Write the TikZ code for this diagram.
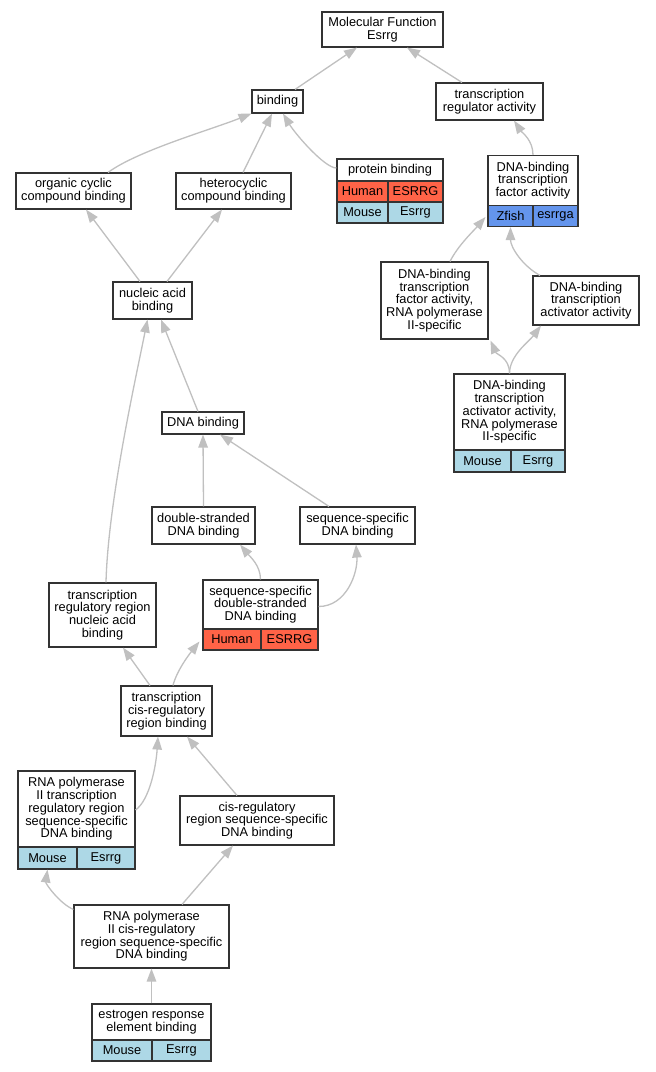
\documentclass[tikz,border=0pt]{standalone}
\usepackage{fontspec}
\setmainfont{Liberation Sans}
\usetikzlibrary{arrows.meta,calc}
\definecolor{human}{HTML}{FF6347}
\definecolor{mouse}{HTML}{ADD8E6}
\definecolor{zfish}{HTML}{6495ED}
\definecolor{edgegray}{HTML}{C0C0C0}
\newcommand\gfont{\fontsize{12.8}{12.7}\selectfont}
\tikzset{
  box/.style={draw=black!80, line width=1.1pt, fill=white, inner sep=0pt, align=center, font=\gfont},
  edge/.style={draw=edgegray, line width=1.3pt, -{Triangle[length=13pt,width=9.5pt,fill=edgegray]}},
}
\begin{document}
\begin{tikzpicture}[x=1pt,y=-1pt]
\useasboundingbox[fill=white] (0,0) rectangle (656,1072);
% simple boxes
\node[box, minimum width=121pt, minimum height=35pt] (mf) at (382.5,29.5) {Molecular Function\\Esrrg};
\node[box, minimum width=51pt, minimum height=23pt] (bind) at (277.5,101.5) {binding};
\node[box, minimum width=107pt, minimum height=37pt] (tra) at (489.5,101.5) {transcription\\regulator activity};
% protein binding
\node[box, minimum width=106pt, minimum height=22pt] (pb) at (390,170) {protein binding};
\node[box, fill=human, minimum width=51pt, minimum height=21pt] (pbh) at (362.5,191.5) {Human};
\node[box, fill=human, minimum width=55pt, minimum height=21pt] (pbhg) at (415.5,191.5) {ESRRG};
\node[box, fill=mouse, minimum width=51pt, minimum height=21pt] (pbm) at (362.5,212.5) {Mouse};
\node[box, fill=mouse, minimum width=55pt, minimum height=21pt] (pbmg) at (415.5,212.5) {Esrrg};
% DNA-binding transcription factor activity
\node[box, minimum width=90pt, minimum height=50pt] (dtf) at (533,180.5) {DNA-binding\\transcription\\factor activity};
\node[box, fill=zfish, minimum width=45pt, minimum height=21pt] (dtfz) at (510.5,216) {Zfish};
\node[box, fill=zfish, minimum width=45pt, minimum height=21pt] (dtfzg) at (555.5,216) {esrrga};
\node[box, minimum width=115pt, minimum height=36pt] (occ) at (73.5,191) {organic cyclic\\compound binding};
\node[box, minimum width=115pt, minimum height=36pt] (hcc) at (233.5,191) {heterocyclic\\compound binding};
\node[box, minimum width=79pt, minimum height=37pt] (nab) at (152.5,300.5) {nucleic acid\\binding};
\node[box, minimum width=107pt, minimum height=77pt] (dtfii) at (434.5,300.5) {DNA-binding\\transcription\\factor activity,\\RNA polymerase\\II-specific};
\node[box, minimum width=106pt, minimum height=49pt] (dtaa) at (586,300.5) {DNA-binding\\transcription\\activator activity};
% activator II
\node[box, minimum width=111pt, minimum height=76pt] (dtaaii) at (509.5,412) {DNA-binding\\transcription\\activator activity,\\RNA polymerase\\II-specific};
\node[box, fill=mouse, minimum width=57pt, minimum height=22pt] (dtaaiim) at (482.5,461) {Mouse};
\node[box, fill=mouse, minimum width=54pt, minimum height=22pt] (dtaaiig) at (538,461) {Esrrg};
\node[box, minimum width=82pt, minimum height=22pt] (dnab) at (203,423) {DNA binding};
\node[box, minimum width=103pt, minimum height=37pt] (dsdna) at (203.5,525.5) {double-stranded\\DNA binding};
\node[box, minimum width=115pt, minimum height=37pt] (ssdna) at (357.5,525.5) {sequence-specific\\DNA binding};
% ssds
\node[box, minimum width=115pt, minimum height=49pt] (ssds) at (260.5,604.5) {sequence-specific\\double-stranded\\DNA binding};
\node[box, fill=human, minimum width=58pt, minimum height=21pt] (ssdsh) at (232,639.5) {Human};
\node[box, fill=human, minimum width=57pt, minimum height=21pt] (ssdsg) at (289.5,639.5) {ESRRG};
\node[box, minimum width=107pt, minimum height=64pt] (trrna) at (102.5,615) {transcription\\regulatory region\\nucleic acid\\binding};
\node[box, minimum width=91pt, minimum height=50pt] (tcrb) at (166.5,711) {transcription\\cis-regulatory\\region binding};
% RP2TRR
\node[box, minimum width=117pt, minimum height=76pt] (rp2trr) at (76.5,809) {RNA polymerase\\II transcription\\regulatory region\\sequence-specific\\DNA binding};
\node[box, fill=mouse, minimum width=59pt, minimum height=22pt] (rp2trrm) at (47.5,858) {Mouse};
\node[box, fill=mouse, minimum width=58pt, minimum height=22pt] (rp2trrg) at (106,858) {Esrrg};
\node[box, minimum width=154pt, minimum height=49pt] (crss) at (257,820.5) {cis-regulatory\\region sequence-specific\\DNA binding};
\node[box, minimum width=155pt, minimum height=63pt] (rp2cr) at (151.5,936.5) {RNA polymerase\\II cis-regulatory\\region sequence-specific\\DNA binding};
% ERE
\node[box, minimum width=119pt, minimum height=36pt] (ere) at (151.5,1022) {estrogen response\\element binding};
\node[box, fill=mouse, minimum width=60pt, minimum height=21pt] (erem) at (122,1050.5) {Mouse};
\node[box, fill=mouse, minimum width=59pt, minimum height=21pt] (ereg) at (181.5,1050.5) {Esrrg};
% edges (child -> parent)
\draw[edge] ([xshift=17.5pt]bind.north) -- ([xshift=-25.5pt]mf.south);
\draw[edge] ([xshift=-27.5pt]tra.north) -- ([xshift=24.5pt]mf.south);
\draw[edge] ([xshift=34.5pt]occ.north) .. controls +(30,-22) and +(-40,16) .. ([xshift=-26pt]bind.south);
\draw[edge] ([xshift=9.5pt]hcc.north) -- ([xshift=-5.5pt]bind.south);
\draw[edge] ([yshift=2pt]pb.west) .. controls +(-12,0) and +(12,20) .. ([xshift=5.5pt]bind.south);
\draw[edge] (dtf.north) .. controls +(0,-15) and +(8,12) .. ([xshift=24.5pt]tra.south);
\draw[edge] ([xshift=-12.5pt]nab.north) -- ([xshift=12.5pt]occ.south);
\draw[edge] ([xshift=14.5pt]nab.north) -- ([xshift=-11.5pt]hcc.south);
\draw[edge] ([xshift=15.5pt]dtfii.north) .. controls +(8,-16) and +(-12,14) .. ([xshift=-2pt,yshift=-1pt]dtfz.west);
\draw[edge] ([xshift=-46pt]dtaa.north) .. controls +(-18,-10) and +(0,20) .. ([xshift=0pt]dtfz.south);
\draw[edge] (dtaaii.north) .. controls +(0,-16) and +(6,14) .. ([xshift=2pt,yshift=-1pt]dtfii.south east);
\draw[edge] (dtaaii.north) .. controls +(0,-18) and +(-12,16) .. ([xshift=-45pt]dtaa.south);
\draw[edge] ([xshift=-5pt]dnab.north) -- ([xshift=8.5pt]nab.south);
\draw[edge] ([xshift=3.5pt]trrna.north) .. controls +(2,-80) and +(-12,60) .. ([xshift=-5pt]nab.south);
\draw[edge] (dsdna.north) -- (dnab.south);
\draw[edge] ([xshift=-28.5pt]ssdna.north) -- ([xshift=17pt]dnab.south);
\draw[edge] (ssds.north) .. controls +(0,-14) and +(10,12) .. ([xshift=36.5pt]dsdna.south);
\draw[edge] ([yshift=-2pt]ssds.east) .. controls +(28,0) and +(2,28) .. ([xshift=-1.5pt]ssdna.south);
\draw[edge] ([xshift=-16.5pt]tcrb.north) -- ([xshift=20.5pt]trrna.south);
\draw[edge] ([xshift=6.5pt]tcrb.north) .. controls +(4,-16) and +(-8,10) .. ([xshift=-3pt,yshift=-2pt]ssdsh.west);
\draw[edge] ([yshift=-1pt]rp2trr.east) .. controls +(14,-10) and +(-2,30) .. ([xshift=-8.5pt]tcrb.south);
\draw[edge] ([xshift=-20pt]crss.north) -- ([xshift=20.5pt]tcrb.south);
\draw[edge] ([yshift=-5pt]rp2cr.north west) .. controls +(-14,-6) and +(-2,14) .. (rp2trrm.south);
\draw[edge] ([xshift=30.5pt]rp2cr.north) -- ([xshift=-24pt]crss.south);
\draw[edge] (ere.north) -- (rp2cr.south);
\end{tikzpicture}
\end{document}
